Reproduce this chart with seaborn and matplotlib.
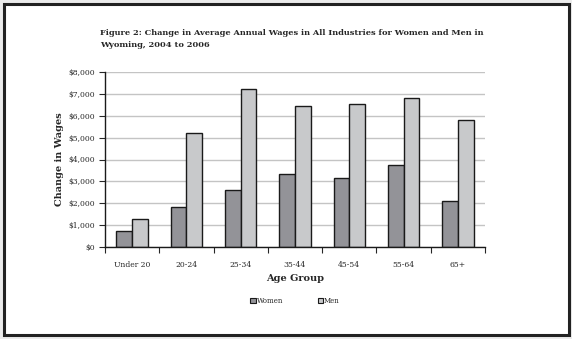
import matplotlib
matplotlib.use("Agg")
import matplotlib.pyplot as plt
import matplotlib.patches as mpatches
from matplotlib.ticker import FixedLocator, FuncFormatter
import seaborn as sns
import pandas as pd

categories = ["Under 20", "20-24", "25-34", "35-44", "45-54", "55-64", "65+"]
women = [740, 1830, 2600, 3330, 3150, 3740, 2100]
men = [1280, 5230, 7230, 6460, 6550, 6820, 5820]
series_names = ["Women", "Men"]
yticks = [0, 1000, 2000, 3000, 4000, 5000, 6000, 7000, 8000]

df = pd.DataFrame({
    "Age Group": categories * 2,
    "Change": women + men,
    "Sex": [series_names[0]] * len(categories) + [series_names[1]] * len(categories),
})

sns.set_style("white")
plt.rcParams["font.family"] = ["DejaVu Serif"]

fig = plt.figure(figsize=(5.72, 3.39), dpi=100)
fig.patch.set_facecolor("#ebebeb")
# white panel with black border
panel = mpatches.Rectangle((4 / 572, 1 - 335 / 339), 564.5 / 572, 331 / 339,
                           transform=fig.transFigure, facecolor="white",
                           edgecolor="#222222", linewidth=2.2, zorder=-5)
fig.patches.append(panel)

ax = fig.add_axes([105 / 572, 1 - 247 / 339, 380 / 572, 175 / 339])
ax.set_zorder(2)
ax.set_facecolor("none")
palette = {"Women": "#939398", "Men": "#c8c9cb"}
sns.barplot(data=df, x="Age Group", y="Change", hue="Sex", order=categories,
            hue_order=series_names, palette=palette, width=0.58,
            edgecolor="#1a1a1a", linewidth=1.0, saturation=1, ax=ax,
            legend=False)

ax.set_ylim(0, 8000)
ax.set_xlim(-0.5, len(categories) - 0.5)
ax.yaxis.set_major_locator(FixedLocator(yticks))
ax.yaxis.set_major_formatter(FuncFormatter(lambda v, p: f"${int(v):,}"))
ax.grid(axis="y", color="#c4c4c4", linewidth=1.0)
ax.set_axisbelow(True)
for s in ["top", "right"]:
    ax.spines[s].set_visible(False)
for s in ["left", "bottom"]:
    ax.spines[s].set_color("#1a1a1a")
    ax.spines[s].set_linewidth(1.0)

ax.tick_params(axis="y", which="major", length=4, direction="out", width=0.8,
               labelsize=5.5, pad=3, left=True)
ax.tick_params(axis="x", which="major", length=0, labelsize=5.5, pad=10)
ax.set_xticks([i + 0.5 for i in range(-1, len(categories))], minor=True)
ax.tick_params(axis="x", which="minor", length=4, direction="out", width=0.8,
               bottom=True)

ax.set_xlabel("Age Group", fontsize=7, fontweight="bold", labelpad=4)
ax.set_ylabel("Change in Wages", fontsize=7, fontweight="bold", labelpad=3)

fig.text(100 / 572, 1 - 39 / 339,
         "Figure 2: Change in Average Annual Wages in All Industries for Women and Men in\nWyoming, 2004 to 2006",
         fontsize=5.95, fontweight="bold", ha="left", va="center", linespacing=1.6)

handles = [mpatches.Patch(facecolor=palette[n], edgecolor="#1a1a1a", linewidth=0.8, label=n)
           for n in series_names]
fig.legend(handles=handles, loc="center", bbox_to_anchor=(295 / 572, 1 - 301 / 339),
           ncol=2, frameon=False, fontsize=5, handlelength=0.8, handleheight=0.8,
           handletextpad=0.1, columnspacing=5)

fig.savefig("out.png", dpi=100, facecolor=fig.get_facecolor())
